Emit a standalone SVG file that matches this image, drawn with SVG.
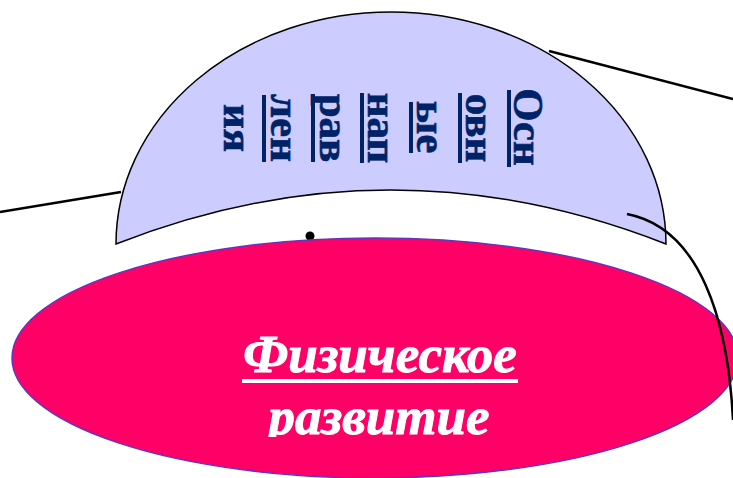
<svg xmlns="http://www.w3.org/2000/svg" width="733" height="478" viewBox="0 0 733 478">
<style>
.conn{fill:none;stroke:#000;stroke-width:2.5}
.vt{font-family:"Liberation Serif","Times New Roman",serif;font-weight:bold;font-size:43px;fill:#002266;stroke:#002266;stroke-width:0.6;text-anchor:middle}
.vu{fill:#002266}
.et{font-family:"Liberation Serif","Times New Roman",serif;font-weight:bold;font-style:italic;font-size:53px;fill:#fff;stroke:#fff;stroke-width:1;text-anchor:middle}
</style>
<defs>
<clipPath id="clipE"><rect x="0" y="300" width="733" height="137"/></clipPath>
</defs>
<rect width="733" height="478" fill="#fff"/>
<g id="dome">
<path d="M116,244 A275,232 0 0 1 666,244 Q391,136 116,244 Z" fill="#CCCCFF" stroke="#000" stroke-width="1.5"/>
<text class="vt" transform="translate(514,127) rotate(90)">Осн</text>
<text class="vt" transform="translate(466,128) rotate(90)">овн</text>
<text class="vt" transform="translate(417,127) rotate(90)">ые</text>
<text class="vt" transform="translate(368,128) rotate(90)">нап</text>
<text class="vt" transform="translate(320,128) rotate(90)">рав</text>
<text class="vt" transform="translate(271,128) rotate(90)">лен</text>
<text class="vt" transform="translate(224,128) rotate(90)">ия</text>
<rect class="vu" x="507" y="90" width="4" height="77"/>
<rect class="vu" x="458" y="93" width="4" height="70"/>
<rect class="vu" x="409" y="102" width="4" height="51"/>
<rect class="vu" x="360" y="93" width="4" height="70"/>
<rect class="vu" x="311" y="94" width="4" height="68"/>
<rect class="vu" x="262" y="95" width="4" height="67"/>
</g>
<g id="dot"><circle cx="310" cy="236" r="4.5" fill="#000"/></g>
<g id="ellipse">
<ellipse cx="375" cy="358" rx="363" ry="120" fill="#FF0066" stroke="#6633BB" stroke-width="1.5"/>
<g clip-path="url(#clipE)">
<text class="et" x="380" y="372">Физическое</text>
<text class="et" x="379" y="434">развитие</text>
</g>
<rect x="242" y="379" width="276" height="4" fill="#fff"/>
</g>
<g id="connectors">
<line class="conn" x1="0" y1="212" x2="121" y2="192"/>
<line class="conn" x1="549" y1="51" x2="733" y2="99"/>
<path class="conn" d="M627,214 C700,228 728,320 733,420"/>
</g>
</svg>
